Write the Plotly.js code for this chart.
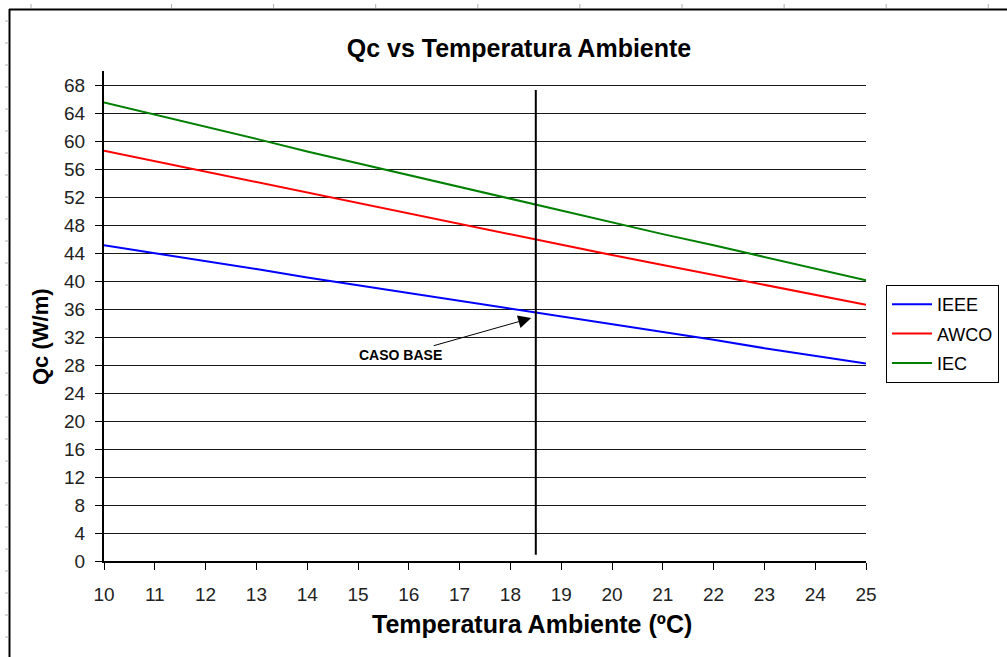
<!DOCTYPE html>
<html>
<head>
<meta charset="utf-8">
<script src="https://cdn.plot.ly/plotly-3.0.1.min.js"></script>
<style>
  html, body { margin: 0; padding: 0; background: #fff; }
  #chart { width: 1007px; height: 657px; }
</style>
</head>
<body>
<div id="chart"></div>
<script>
// Ambient temperature (ºC) and conductor heat loss Qc (W/m) for each method
const temperatura = [10, 11, 12, 13, 14, 15, 16, 17, 18, 19, 20, 21, 22, 23, 24, 25];
const qcIEEE = [45.1, 44.0, 42.9, 41.7, 40.5, 39.4, 38.2, 37.1, 36.0, 34.9, 33.8, 32.7, 31.6, 30.4, 29.3, 28.2];
const qcAWCO = [58.6, 57.1, 55.6, 54.1, 52.7, 51.2, 49.7, 48.2, 46.7, 45.2, 43.7, 42.3, 40.9, 39.5, 38.0, 36.6];
const qcIEC  = [65.5, 63.8, 62.0, 60.3, 58.5, 56.8, 55.1, 53.5, 51.8, 50.1, 48.4, 46.7, 45.1, 43.4, 41.8, 40.1];

const seriesNames = ['IEEE', 'AWCO', 'IEC'];
const seriesColors = ['#0000ff', '#ff0000', '#008000'];

// Base case ambient temperature and its Qc on the IEEE curve
const casoBaseTemp = 18.5;
const casoBaseQc = 35.5;

// Plot area in pixels (left/top/right/bottom edges)
const W = 1007, H = 657;
const M = { l: 104, r: 141, t: 71, b: 96, autoexpand: false };
const PW = W - M.l - M.r, PH = H - M.t - M.b;
const px = v => (v - M.l) / PW;          // pixel x -> paper x
const py = v => (H - M.b - v) / PH;      // pixel y -> paper y

const FONT = 'Liberation Sans, Arial, sans-serif';

const traces = [qcIEEE, qcAWCO, qcIEC].map((vals, i) => ({
  type: 'scatter',
  mode: 'lines',
  x: temperatura,
  y: vals,
  name: seriesNames[i],
  legendgroup: seriesNames[i],
  line: { color: seriesColors[i], width: 2 },
  hoverinfo: 'x+y+name'
}));

// Sheet frame: top and left border with ruler ticks
const shapes = [];
shapes.push({ type: 'line', xref: 'paper', yref: 'paper', x0: px(9), x1: px(W + 5), y0: py(9.5), y1: py(9.5), line: { color: '#000', width: 2 } });
shapes.push({ type: 'line', xref: 'paper', yref: 'paper', x0: px(9.5), x1: px(9.5), y0: py(9), y1: py(H + 5), line: { color: '#000', width: 2 } });
const topTicks = [31];
for (let x = 171.5; x < W; x += 102.1) topTicks.push(x);
topTicks.forEach(x => shapes.push({ type: 'line', xref: 'paper', yref: 'paper', x0: px(x), x1: px(x), y0: py(4), y1: py(8), line: { color: '#b0b0b0', width: 1 } }));
for (let y = 21; y < H; y += 22) {
  shapes.push({ type: 'line', xref: 'paper', yref: 'paper', x0: px(5), x1: px(8.5), y0: py(y), y1: py(y), line: { color: '#b0b0b0', width: 1 } });
}
// Base case marker line
shapes.push({ type: 'line', xref: 'x', yref: 'y', x0: casoBaseTemp, x1: casoBaseTemp, y0: 0.9, y1: 67.3, line: { color: '#000', width: 2 } });

const annotations = [
  {
    xref: 'x', yref: 'y', axref: 'x', ayref: 'y',
    x: casoBaseTemp - 0.09, y: casoBaseQc - 0.8,
    ax: 15.83, ay: 29.4,
    text: '<b>CASO BASE</b>',
    font: { family: 'Liberation Sans Narrow, ' + FONT, size: 14, color: '#000' },
    showarrow: true, arrowhead: 2, arrowsize: 2.6, arrowwidth: 1, arrowcolor: '#000'
  },
  {
    xref: 'paper', yref: 'paper', x: px(532), y: py(624),
    xanchor: 'center', yanchor: 'middle', showarrow: false,
    text: '<b>Temperatura Ambiente (ºC)</b>',
    font: { family: FONT, size: 25, color: '#000' }
  },
  {
    xref: 'paper', yref: 'paper', x: px(40), y: py(337),
    xanchor: 'center', yanchor: 'middle', showarrow: false, textangle: -90,
    text: '<b>Qc (W/m)</b>',
    font: { family: FONT, size: 22, color: '#000' }
  }
];

const layout = {
  width: W, height: H,
  margin: M,
  paper_bgcolor: '#fff', plot_bgcolor: '#fff',
  font: { family: FONT, color: '#000' },
  title: {
    text: '<b>Qc vs Temperatura Ambiente</b>',
    x: 519 / W, xref: 'container', xanchor: 'center',
    y: 1 - 48 / H, yref: 'container', yanchor: 'middle',
    font: { family: FONT, size: 25, color: '#000' }
  },
  xaxis: {
    range: [10, 25], tick0: 10, dtick: 1,
    ticks: 'outside', ticklen: 7, tickcolor: '#000', tickwidth: 1,
    showline: true, linecolor: '#000', linewidth: 2,
    showgrid: false, zeroline: false,
    tickfont: { family: FONT, size: 19, color: '#222' },
    ticklabelstandoff: 8
  },
  yaxis: {
    range: [0, 70], tick0: 0, dtick: 4,
    ticks: 'outside', ticklen: 7, tickcolor: '#000', tickwidth: 1,
    showline: true, linecolor: '#000', linewidth: 2,
    showgrid: true, gridcolor: '#1a1a1a', gridwidth: 1, zeroline: false,
    tickfont: { family: FONT, size: 19, color: '#222' },
    ticklabelstandoff: 6
  },
  legend: {
    x: px(886), y: py(285), xanchor: 'left', yanchor: 'top',
    bordercolor: '#000', borderwidth: 1, bgcolor: '#fff',
    font: { family: FONT, size: 18, color: '#000' },
    traceorder: 'grouped', tracegroupgap: 3, itemwidth: 40
  },
  showlegend: true,
  shapes: shapes,
  annotations: annotations
};

Plotly.newPlot('chart', traces, layout, { displayModeBar: false, staticPlot: false });
</script>
</body>
</html>
